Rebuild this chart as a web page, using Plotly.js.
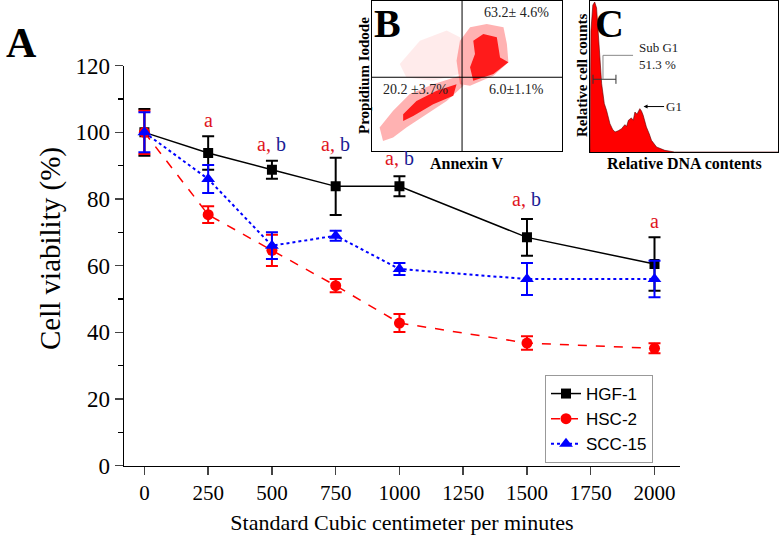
<!DOCTYPE html>
<html>
<head>
<meta charset="utf-8">
<script src="https://cdn.plot.ly/plotly-3.0.1.min.js"></script>
<style>
  html, body { margin: 0; padding: 0; background: #fff; }
  #myPlot { width: 780px; height: 535px; }
</style>
</head>
<body>
<div id="myPlot"></div>
<script>
// Main panel A: cell viability vs flow rate
var flow = [0, 250, 500, 750, 1000, 1500, 2000];
var hgf1 = [100, 93.8, 88.8, 83.8, 83.8, 68.5, 60.5];
var hgf1Err = [7, 5, 2.7, 8.6, 3, 5.5, 8];
var hsc2 = [100, 75.3, 64.6, 54, 42.8, 36.8, 35.2];
var hsc2Err = [6.5, 2.5, 4.7, 2, 2.7, 2, 1.5];
var scc15 = [100, 86, 66, 69, 59, 56, 56];
var scc15Err = [6, 4.2, 4, 1.5, 1.8, 4.8, 5.5];

// significance letters above the points
var sigX = [250, 500, 750, 1000, 1500, 2000];
var sigY = [103.7, 96.5, 96.5, 92.3, 80, 73.5];
var sigB = [false, true, true, true, true, false];

// Panel B: annexin V / PI dot plot, cloud outlines (0-100 units)
var faintX = [14.6, 25.2, 39.3, 46.3, 46.3, 32.2, 18.1];
var faintY = [57.8, 73.3, 80, 75.6, 51.1, 46.7, 48.9];
var lowSparseX = [5.8, 4.0, 11.1, 19.9, 32.2, 46.3, 48.1, 39.3, 28.7, 18.1, 11.1];
var lowSparseY = [6.7, 15.6, 26.7, 37.8, 44.4, 50, 43.3, 33.3, 24.4, 15.6, 8.9];
var lowDenseX = [16.4, 23.4, 34.0, 44.5, 42.8, 32.2, 21.7, 16.4];
var lowDenseY = [24.4, 33.3, 40, 44.4, 36.7, 31.1, 23.3, 20];
var upSparseX = [46.3, 51.6, 60.4, 69.2, 71.0, 71.8, 63.9, 51.6, 46.3, 44.5];
var upSparseY = [73.3, 82.2, 84.4, 82.2, 71.1, 58.9, 50, 43.3, 44.4, 60];
var upDenseX = [53.3, 58.6, 65.7, 67.4, 71.8, 63.9, 53.3, 51.6, 54.2];
var upDenseY = [73.3, 77.8, 75.6, 62.2, 58.9, 51.1, 46.7, 55.6, 64.4];
var quadText = ["63.2\u00b1 4.6%", "20.2 \u00b13.7%", "6.0\u00b11.1%"];
var quadX = [76, 23, 76];
var quadY = [92, 41, 41];

// Panel C: DNA content histogram
var dnaX = [0, 0.5, 1.5, 2.5, 3.5, 4.4, 5.2, 6.2, 7.6, 8.8, 10.6, 12.0, 13.3, 15.0, 16.8, 18.5, 19.5, 20.4, 22.0, 23.0, 23.9, 25.0, 26.5, 27.4, 28.3, 30.0, 31.5, 32.7, 35.4, 39.8, 45.0, 100];
var dnaY = [0, 80, 97, 99, 95, 78, 60, 45, 32, 27.5, 18.7, 15, 13.2, 14, 15.4, 18, 17, 20.9, 22.5, 21, 26.4, 25, 28.6, 27, 24.2, 16.5, 12, 7.7, 3.3, 1.1, 0, 0];

var serif = "Liberation Serif, Times New Roman, serif";
var sans = "Liberation Sans, Arial, sans-serif";
var W = 780, H = 535;
function px(x) { return x / W; }
function py(y) { return 1 - y / H; }

var data = [
  {
    x: flow, y: hgf1, name: "HGF-1", mode: "lines+markers",
    line: {color: "black", width: 1.5},
    marker: {symbol: "square", size: 10, color: "black"},
    error_y: {type: "data", array: hgf1Err, visible: true, color: "black", thickness: 2, width: 6}
  },
  {
    x: flow, y: hsc2, name: "HSC-2", mode: "lines+markers",
    line: {color: "red", width: 1.5, dash: "dash"},
    marker: {symbol: "circle", size: 11, color: "red"},
    error_y: {type: "data", array: hsc2Err, visible: true, color: "red", thickness: 2, width: 6}
  },
  {
    x: flow, y: scc15, name: "SCC-15", mode: "lines+markers",
    line: {color: "blue", width: 2, dash: "dot"},
    marker: {symbol: "triangle-up", size: 12, color: "blue"},
    error_y: {type: "data", array: scc15Err, visible: true, color: "blue", thickness: 2, width: 6}
  }
];

var clouds = [
  [faintX, faintY, 0.08], [lowSparseX, lowSparseY, 0.3], [upSparseX, upSparseY, 0.3],
  [lowDenseX, lowDenseY, 0.85], [upDenseX, upDenseY, 0.85]
];
clouds.forEach(function (c) {
  data.push({
    x: c[0], y: c[1], xaxis: "x2", yaxis: "y2", mode: "lines", fill: "toself",
    fillcolor: "rgba(255,0,0," + c[2] + ")", line: {width: 0}, showlegend: false, hoverinfo: "skip"
  });
});

data.push({
  x: dnaX, y: dnaY, xaxis: "x3", yaxis: "y3", mode: "lines", fill: "tozeroy",
  fillcolor: "red", line: {color: "#5a0000", width: 0.6}, showlegend: false, hoverinfo: "skip"
});

var annotations = [];
sigX.forEach(function (x, i) {
  var t = sigB[i] ? '<span style="color:#e0141e">a,</span> <span style="color:#1c1c94">b</span>'
                  : '<span style="color:#e0141e">a</span>';
  annotations.push({x: x, y: sigY[i], xref: "x", yref: "y", text: t, showarrow: false,
    font: {family: serif, size: 20}});
});
quadText.forEach(function (t, i) {
  annotations.push({x: quadX[i], y: quadY[i], xref: "x2", yref: "y2", text: t, showarrow: false,
    font: {family: serif, size: 14, color: "#222"}});
});
annotations.push(
  {x: px(50), y: py(248), xref: "paper", yref: "paper", xanchor: "center", yanchor: "middle", textangle: -90,
   text: "Cell viability (%)", showarrow: false, font: {family: serif, size: 29, color: "black"}},
  {x: px(4), y: py(18), xref: "paper", yref: "paper", xanchor: "left", yanchor: "top",
   text: "<b>A</b>", showarrow: false, font: {family: serif, size: 42, color: "black"}},
  {x: px(373), y: py(24), xref: "paper", yref: "paper", xanchor: "left", yanchor: "middle", borderpad: 0,
   text: "<b>B</b>", showarrow: false, font: {family: serif, size: 40, color: "black"}},
  {x: px(594), y: py(24), xref: "paper", yref: "paper", xanchor: "left", yanchor: "middle", borderpad: 0,
   text: "<b>C</b>", showarrow: false, font: {family: serif, size: 40, color: "black"}},
  {x: px(364), y: py(76), xref: "paper", yref: "paper", xanchor: "center", yanchor: "middle", textangle: -90,
   text: "<b>Propidium Iodode</b>", showarrow: false, font: {family: serif, size: 15, color: "black"}},
  {x: px(467), y: py(163), xref: "paper", yref: "paper", xanchor: "center", yanchor: "middle",
   text: "<b>Annexin V</b>", showarrow: false, font: {family: serif, size: 16, color: "black"}},
  {x: px(582), y: py(76), xref: "paper", yref: "paper", xanchor: "center", yanchor: "middle", textangle: -90,
   text: "<b>Relative cell counts</b>", showarrow: false, font: {family: serif, size: 15, color: "black"}},
  {x: px(684), y: py(163), xref: "paper", yref: "paper", xanchor: "center", yanchor: "middle",
   text: "<b>Relative DNA contents</b>", showarrow: false, font: {family: serif, size: 16, color: "black"}},
  {x: 25, y: 63.5, xref: "x3", yref: "y3", xanchor: "left",
   text: "Sub G1<br>51.3 %", align: "left", showarrow: false, font: {family: serif, size: 13, color: "#222"}},
  {x: 28.5, y: 30, xref: "x3", yref: "y3", ax: 30, ay: 0, axref: "pixel", ayref: "pixel",
   text: "G1", showarrow: true, arrowhead: 2, arrowsize: 0.8, arrowwidth: 1, arrowcolor: "black",
   font: {family: serif, size: 13, color: "#222"}}
);

var shapes = [
  // quadrant gates in B
  {type: "line", xref: "x2", yref: "y2", x0: 47.4, x1: 47.4, y0: 0, y1: 100, line: {color: "black", width: 1}},
  {type: "line", xref: "x2", yref: "y2", x0: 0, x1: 100, y0: 49, y1: 49, line: {color: "black", width: 1}},
  // sub G1 marker in C
  {type: "line", xref: "x3", yref: "y3", x0: 1.6, x1: 13.8, y0: 48, y1: 48, line: {color: "#333", width: 1}},
  {type: "line", xref: "x3", yref: "y3", x0: 1.6, x1: 1.6, y0: 45, y1: 51, line: {color: "#333", width: 1}},
  {type: "line", xref: "x3", yref: "y3", x0: 13.8, x1: 13.8, y0: 45, y1: 51, line: {color: "#333", width: 1}},
  {type: "path", xref: "x3", yref: "y3", path: "M 6.9 48 L 6.9 63.8 L 22.9 63.8", line: {color: "#888", width: 1}}
];

var insetAxis = {range: [0, 100], showline: true, mirror: true, linecolor: "black", linewidth: 1,
  showticklabels: false, ticks: "", showgrid: false, zeroline: false, fixedrange: true};

var layout = {
  width: W, height: H,
  margin: {l: 0, r: 0, t: 0, b: 0},
  paper_bgcolor: "white", plot_bgcolor: "rgba(0,0,0,0)",
  font: {family: serif, color: "black"},
  xaxis: {
    domain: [px(124), px(680)], anchor: "y",
    range: [-80, 2100], tickvals: [0, 250, 500, 750, 1000, 1250, 1500, 1750, 2000],
    showline: true, linecolor: "black", linewidth: 1.5, ticks: "outside", ticklen: 8, tickwidth: 1.5,
    showgrid: false, zeroline: false, tickfont: {family: serif, size: 21},
    title: {text: "Standard Cubic centimeter per minutes", font: {family: serif, size: 22}, standoff: 12}
  },
  yaxis: {
    domain: [py(465.7), py(65.7)], anchor: "x",
    range: [0, 120], dtick: 20,
    showline: true, linecolor: "black", linewidth: 1.5, ticks: "outside", ticklen: 8, tickwidth: 1.5,
    minor: {dtick: 10, ticks: "outside", ticklen: 5, tickwidth: 1.5, tickcolor: "black"},
    showgrid: false, zeroline: false, tickfont: {family: serif, size: 23}
  },
  xaxis2: Object.assign({domain: [px(372), px(562)], anchor: "y2"}, insetAxis),
  yaxis2: Object.assign({domain: [py(151), py(0.5)], anchor: "x2"}, insetAxis),
  xaxis3: Object.assign({domain: [px(590), px(778)], anchor: "y3"}, insetAxis),
  yaxis3: Object.assign({domain: [py(152), py(0.5)], anchor: "x3"}, insetAxis),
  showlegend: true,
  legend: {
    x: px(545), y: py(375), xanchor: "left", yanchor: "top",
    bgcolor: "white", bordercolor: "#999", borderwidth: 1,
    font: {family: sans, size: 17, color: "black"}, tracegroupgap: 0, itemwidth: 30
  },
  annotations: annotations,
  shapes: shapes
};

Plotly.newPlot("myPlot", data, layout, {displayModeBar: false, staticPlot: true});
</script>
</body>
</html>
